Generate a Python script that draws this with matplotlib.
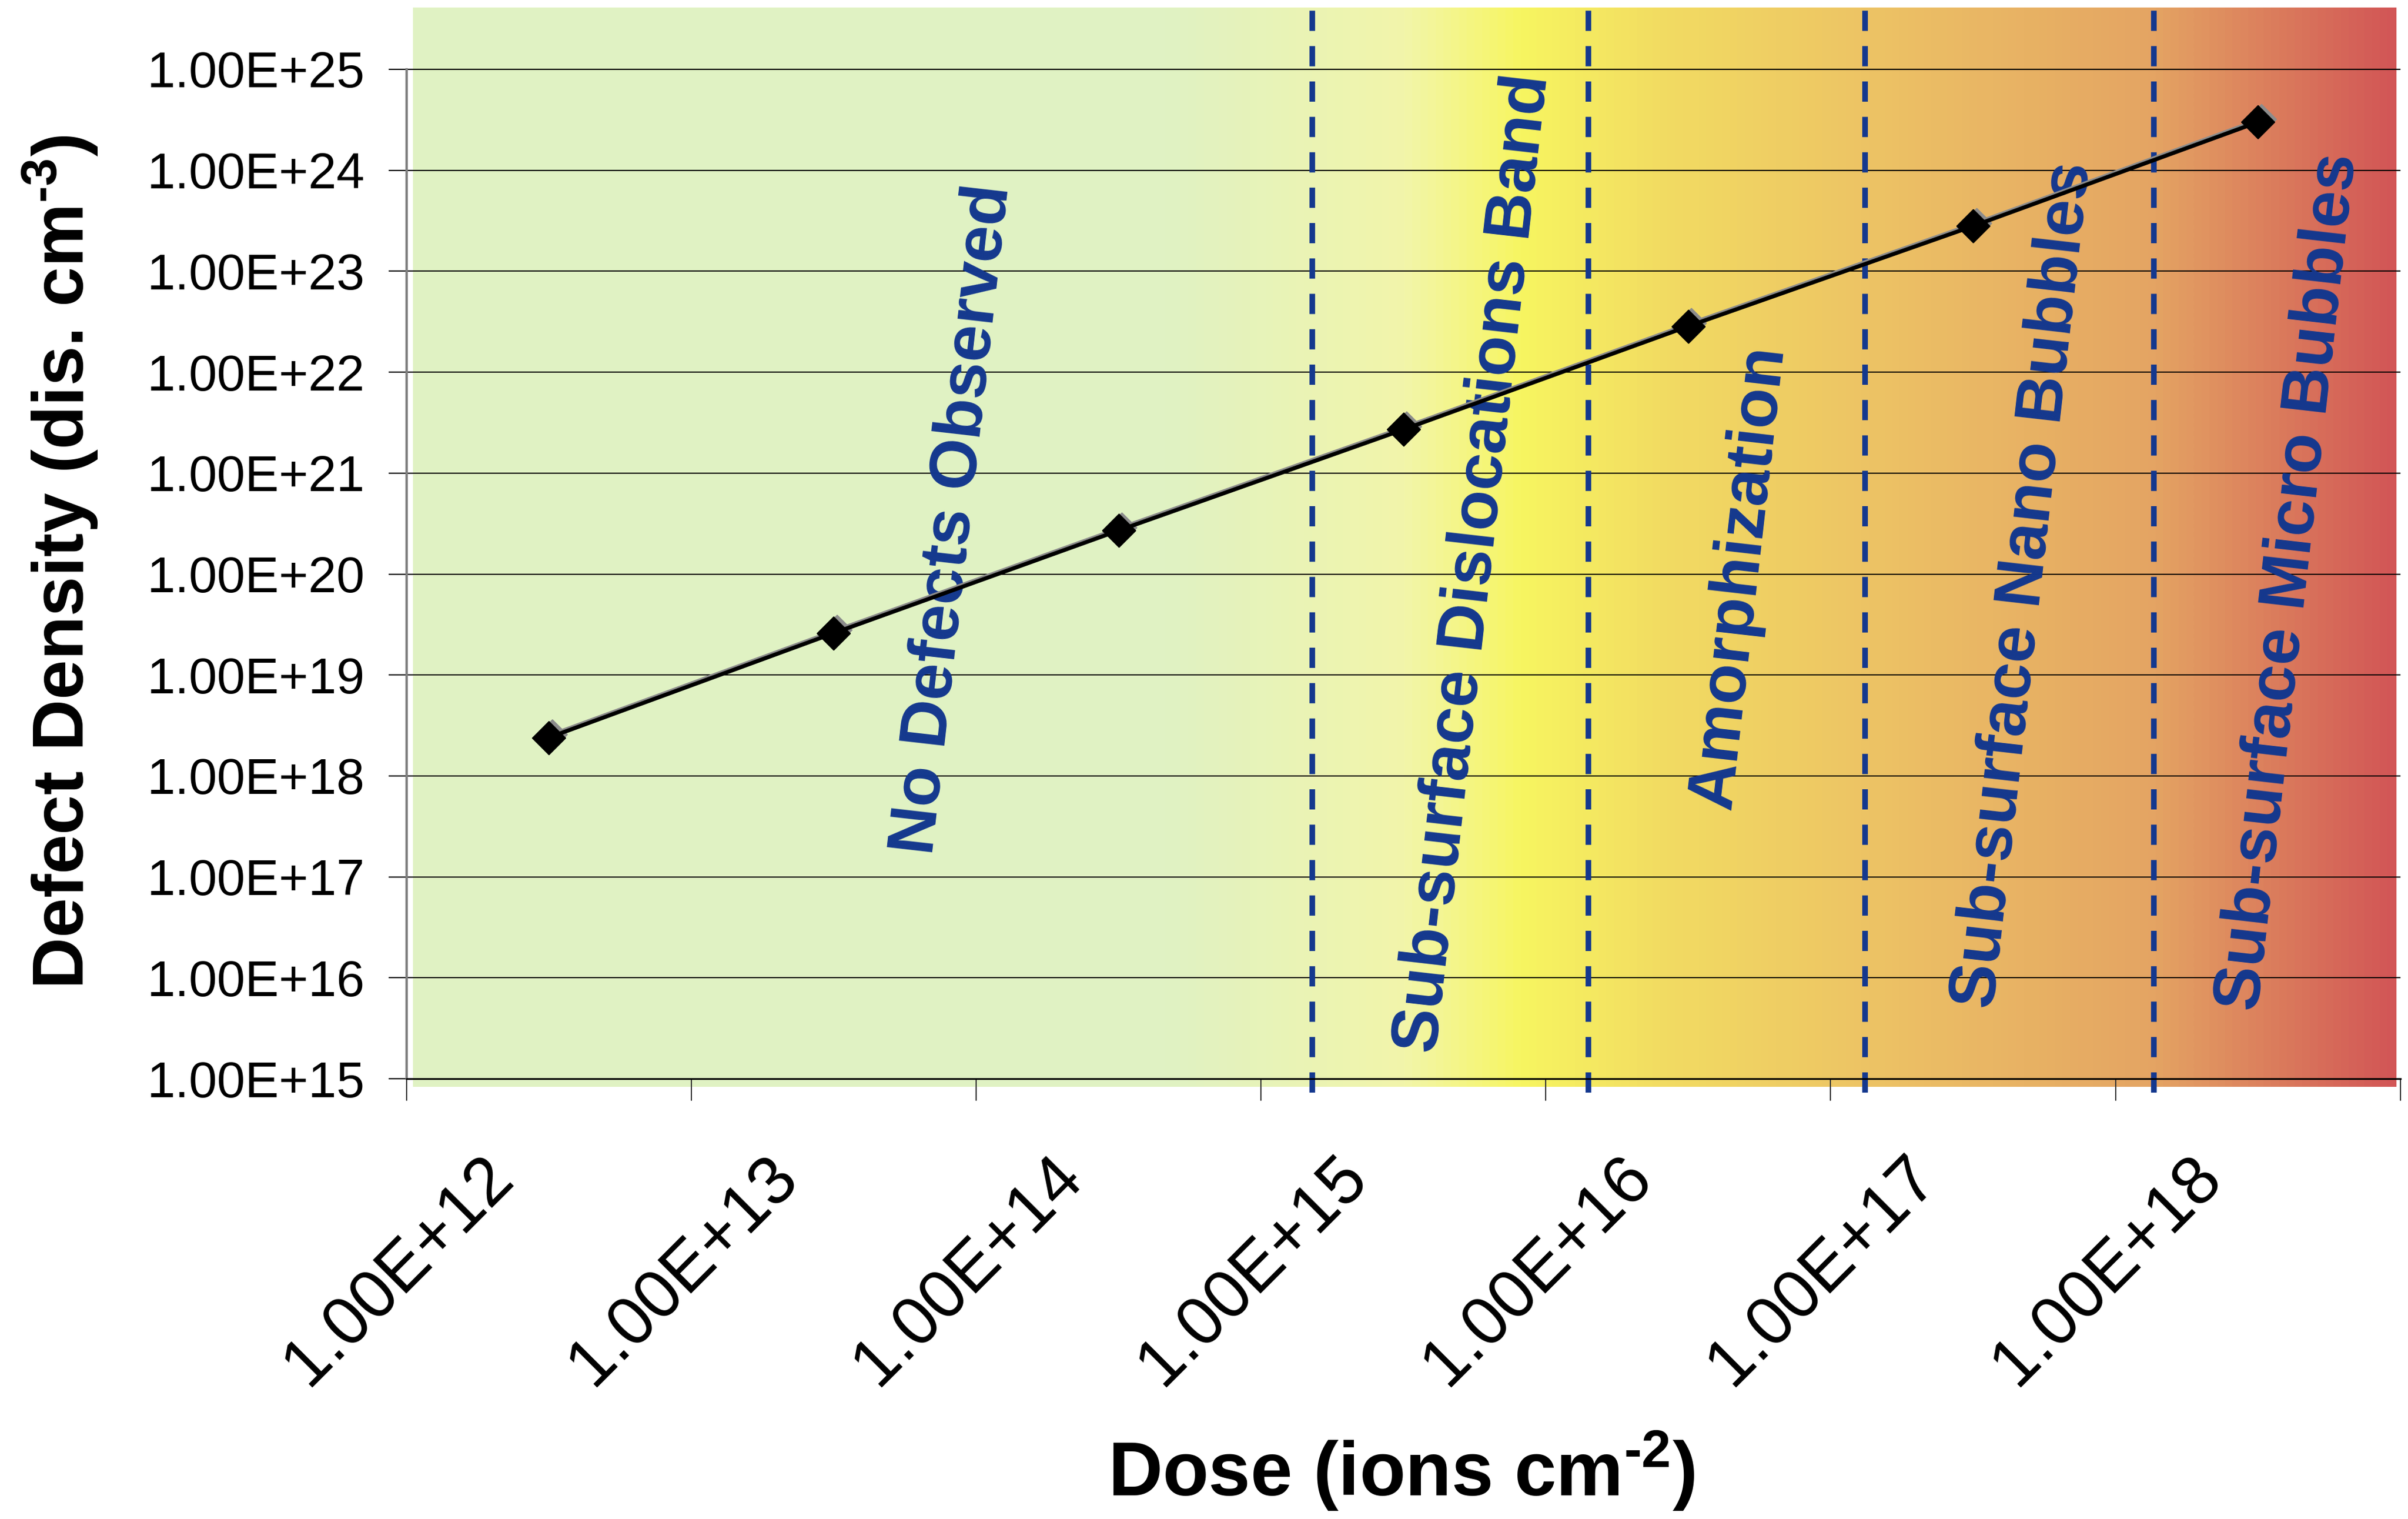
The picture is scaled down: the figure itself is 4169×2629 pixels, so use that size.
import numpy as np
import matplotlib
matplotlib.use("Agg")
import matplotlib.pyplot as plt
from matplotlib import transforms
from matplotlib.colors import LinearSegmentedColormap
from matplotlib.ticker import FuncFormatter, NullLocator

plt.rcParams['font.family'] = ['Liberation Sans', 'DejaVu Sans']
plt.rcParams['mathtext.fontset'] = 'custom'
plt.rcParams['mathtext.rm'] = 'Liberation Sans:bold'
plt.rcParams['mathtext.bf'] = 'Liberation Sans:bold'
plt.rcParams['mathtext.default'] = 'bf'

# data
dose = [1e12, 1e13, 1e14, 1e15, 1e16, 1e17, 1e18]
density = [2.4e18, 2.6e19, 2.7e20, 2.7e21, 2.85e22, 2.8e23, 3.0e24]
ytick_vals = [10.0 ** k for k in range(15, 26)]
# regime limits, in category units along the dose axis
boundaries = [2.68, 3.65, 4.62, 5.635]
regimes = ["No Defects Observed", "Sub-surface Dislocations Band",
           "Amorphization", "Sub-surface Nano Bubbles",
           "Sub-surface Micro Bubbles"]

blue = '#14388e'

fig = plt.figure(figsize=(41.69, 26.29), dpi=100)

# gradient background (green -> yellow -> orange -> red)
bg = fig.add_axes([0.1714, 0.2847, 0.8235, 0.7102], zorder=0)
stops = [(0.0, '#e0f2c3'), (0.38, '#e0f2c3'), (0.5, '#f2f5aa'),
         (0.56, '#f7f560'), (0.63, '#f2dc62'), (0.75, '#ecc065'),
         (0.88, '#e4a463'), (1.0, '#d25656')]
cmap = LinearSegmentedColormap.from_list('regime', stops)
grad = np.linspace(0, 1, 800).reshape(1, -1)
bg.imshow(grad, cmap=cmap, aspect='auto', extent=[0, 1, 0, 1],
          interpolation='bilinear')
bg.axis('off')

ax = fig.add_axes([0.1688, 0.2898, 0.828, 0.7051], zorder=1)
ax.patch.set_visible(False)

x = np.arange(len(dose))
ax.set_yscale('log')
ax.set_xlim(-0.5, len(dose) - 0.5)
ax.set_ylim(1e15, 10 ** 25.61)

# grid + y axis
ax.set_yticks(ytick_vals)
ax.yaxis.set_minor_locator(NullLocator())
ax.yaxis.set_major_formatter(FuncFormatter(lambda v, p: f"{v:.2E}"))
ax.yaxis.grid(True, color='black', lw=1.5, zorder=1)
ax.set_axisbelow(True)
ax.tick_params(axis='y', which='major', length=22, width=1.5, pad=30,
               labelsize=63, direction='out', color='black')

# x axis: labels at category centres, ticks at category edges
ax.set_xticks(x)
ax.set_xticklabels([f"{d:.2E}" for d in dose], rotation=45, ha='right',
                   va='center', rotation_mode='anchor')
ax.set_xticks(np.arange(-0.5, len(dose)), minor=True)
ax.tick_params(axis='x', which='major', length=0, pad=110, labelsize=85)
ax.tick_params(axis='x', which='minor', length=27, width=1.5, color='#333333')
shift = transforms.ScaledTranslation(-58 / 72, 0, fig.dpi_scale_trans)
for lab in ax.get_xticklabels():
    lab.set_transform(lab.get_transform() + shift)

for s in ['top', 'right']:
    ax.spines[s].set_visible(False)
ax.spines['left'].set_bounds(1e15, 1e25)
ax.spines['left'].set_color('#7f7f7f')
ax.spines['left'].set_linewidth(3)
ax.spines['bottom'].set_color('black')
ax.spines['bottom'].set_linewidth(2.2)

# regime limits
trans = transforms.blended_transform_factory(ax.transData, ax.transAxes)
for b in boundaries:
    ax.plot([b, b], [-0.013, 1.007], transform=trans, color=blue, lw=7,
            dashes=(3.6, 2.7), clip_on=False, zorder=2)

# regime names (slightly tilted, as in the original)
label_pos = [(1.42, 0.522), (3.25, 0.481), (4.18, 0.468), (5.18, 0.461),
             (6.11, 0.464)]
for name, (lx, ly) in zip(regimes, label_pos):
    ax.text(lx, ly, name, transform=trans, rotation=83.5, ha='center',
            va='center', fontsize=83, fontweight='bold', color=blue, zorder=3)

# data series with grey drop shadow
shadow = transforms.offset_copy(ax.transData, fig=fig, x=4, y=4, units='points')
ax.plot(x, density, color='#8c8c8c', lw=4.5, marker='D', ms=26,
        transform=shadow, zorder=4)
ax.plot(x, density, color='black', lw=5, marker='D', ms=30, zorder=5)

fig.text(0.025, 0.630, r'Defect Density (dis. cm$^{\text{-3}}$)', rotation=90,
         ha='center', va='center', fontsize=89, fontweight='bold')
fig.text(0.582, 0.0152, r'Dose (ions cm$^{\text{-2}}$)', ha='center',
         va='baseline', fontsize=94, fontweight='bold')

fig.savefig('out.png', dpi=100, facecolor='white')
